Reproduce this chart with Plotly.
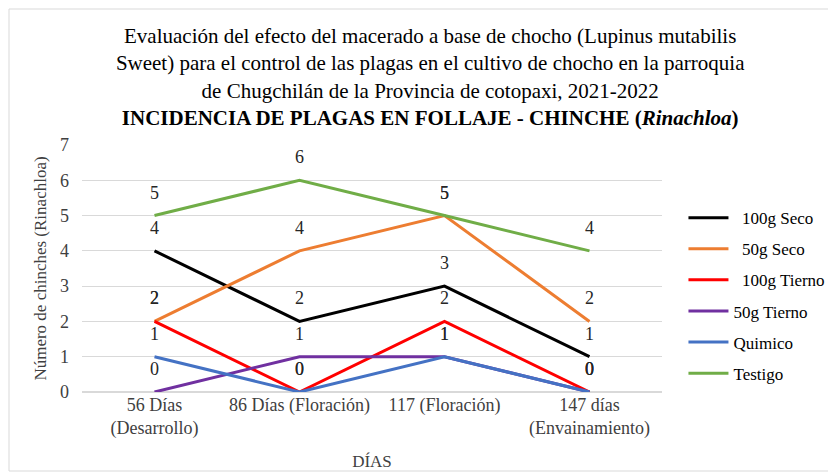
import plotly.graph_objects as go

dias = ["56 Días<br>(Desarrollo)", "86 Días (Floración)", "117 (Floración)", "147 días<br>(Envainamiento)"]
seco_100 = [4, 2, 3, 1]
seco_50 = [2, 4, 5, 2]
tierno_100 = [2, 0, 2, 0]
tierno_50 = [0, 1, 1, 0]
quimico = [1, 0, 1, 0]
testigo = [5, 6, 5, 4]

series = [
    ("  100g Seco", seco_100, "#000000"),
    ("  50g Seco", seco_50, "#ED7D31"),
    ("  100g Tierno", tierno_100, "#FF0000"),
    ("50g Tierno", tierno_50, "#7030A0"),
    ("Quimico", quimico, "#4472C4"),
    ("Testigo", testigo, "#70AD47"),
]

FONT = "Liberation Serif"

fig = go.Figure()
for i, (name, vals, color) in enumerate(series):
    fig.add_trace(go.Scatter(x=dias, y=vals, name=name, mode="lines",
                             line=dict(color=color, width=3), legendgroup=str(i)))
    for d, v in zip(dias, vals):
        fig.add_annotation(x=d, y=v, text=str(v), showarrow=False, yshift=23,
                           font=dict(size=18, color="#262626", family=FONT))

title = ("Evaluación del efecto del macerado a base de chocho (Lupinus mutabilis<br>"
         "Sweet) para el control de las plagas en el cultivo de chocho en la parroquia<br>"
         "de Chugchilán de la Provincia de cotopaxi, 2021-2022<br>"
         "<b>INCIDENCIA DE PLAGAS EN FOLLAJE - CHINCHE (<i>Rinachloa</i>)</b>")

fig.update_layout(
    width=836, height=475,
    paper_bgcolor="white", plot_bgcolor="white",
    font=dict(family=FONT, color="#262626", size=16),
    margin=dict(l=74, r=182, t=137, b=91),
    title=dict(text=title, x=0.505, xanchor="center", y=0.926, yanchor="top",
               font=dict(size=21, color="#000000", family=FONT)),
    legend=dict(x=1.037, xanchor="left", y=0.777, yanchor="top",
                font=dict(size=17, color="#000000", family=FONT),
                tracegroupgap=6, itemwidth=40, traceorder="grouped"),
    showlegend=True,
)
fig.update_xaxes(showgrid=False, showline=False, ticks="", range=[-0.5, 3.5], automargin=False,
                 tickfont=dict(size=18, color="#404040", family=FONT),
                 title=dict(text="DÍAS", font=dict(size=17, color="#404040", family=FONT), standoff=16))
fig.update_yaxes(range=[0, 7], dtick=1, showgrid=True, gridcolor="#D9D9D9", gridwidth=1,
                 zeroline=True, zerolinecolor="#D9D9D9", showline=False, ticks="", automargin=False,
                 tickfont=dict(size=18, color="#404040", family=FONT), ticklabelstandoff=12,
                 title=dict(text="Número de chinches (Rinachloa)",
                            font=dict(size=17, color="#404040", family=FONT), standoff=9))

# thin frame around the whole chart
fig.add_shape(type="rect", xref="paper", yref="paper",
              x0=(1 - 74) / 580, x1=(824 - 74) / 580,
              y0=(384 - 463) / 247, y1=(384 - 1) / 247,
              line=dict(color="#D9D9D9", width=1), layer="below")

fig.write_html("out.html")
